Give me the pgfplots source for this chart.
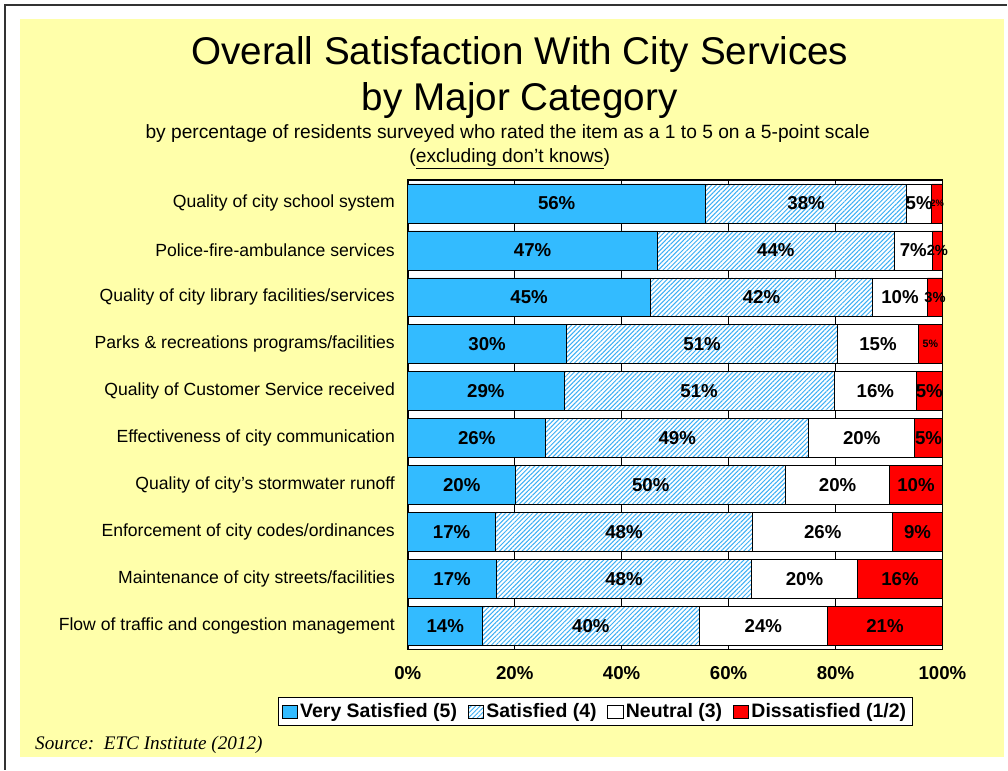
\documentclass[border=0pt]{standalone}
\usepackage{pgfplots}
\pgfplotsset{compat=1.18}
\usepackage{fontspec}
\setmainfont{Liberation Sans}
\newfontfamily\srcfont{Liberation Serif}
\usetikzlibrary{patterns.meta}
\definecolor{bgyellow}{RGB}{255,255,170}
\definecolor{vsblue}{RGB}{51,187,255}
\definecolor{hatchblue}{RGB}{60,175,245}
\definecolor{dsred}{RGB}{255,0,0}
\begin{document}
\begin{tikzpicture}
% page and background
\fill[white] (0pt,0pt) rectangle (756pt,577.5pt);
\draw[black!80, line width=0.9pt] (3.75pt,0pt) -- (3.75pt,573.75pt) -- (756pt,573.75pt);
\fill[bgyellow] (15pt,9.75pt) rectangle (753.75pt,563.25pt);
% titles
\node[font=\fontsize{29}{29}\selectfont] at (390pt,536.25pt) {Overall Satisfaction With City Services};
\node[font=\fontsize{29}{29}\selectfont] at (390pt,501.75pt) {by Major Category};
\node[font=\fontsize{14.4}{14.4}\selectfont] at (381pt,477pt) {by percentage of residents surveyed who rated the item as a 1 to 5 on a 5-point scale};
\node[font=\fontsize{14.4}{14.4}\selectfont] at (382.5pt,458.5pt) {(\underline{excluding don't knows})};
\node[font=\srcfont\itshape\fontsize{14.4}{14.4}\selectfont, anchor=west, inner sep=0pt] at (26.25pt,18.75pt) {Source:\ \ ETC Institute (2012)};
\begin{axis}[
  at={(306pt,90pt)}, anchor=south west,
  scale only axis, width=401.25pt, height=352.5pt,
  xbar stacked, bar width=29.25pt,
  xmin=0, xmax=100, ymin=-0.5, ymax=9.5,
  y dir=reverse,
  clip=false,
  axis background/.style={fill=white},
  xtick={0,20,...,100},
  xticklabel={\pgfmathprintnumber{\tick}\%},
  xticklabel style={font=\bfseries\fontsize{14}{14}\selectfont, /pgf/number format/assume math mode=true, yshift=-9pt},
  xmajorgrids, grid style={black, line width=0.5pt},
  major tick length=0pt,
  ytick={0,...,9},
  yticklabels={Quality of city school system, Police-fire-ambulance services, Quality of city library facilities/services, Parks \& recreations programs/facilities, Quality of Customer Service received, Effectiveness of city communication, Quality of city’s stormwater runoff, Enforcement of city codes/ordinances, Maintenance of city streets/facilities, Flow of traffic and congestion management},
  yticklabel style={font=\fontsize{13.2}{13.2}\selectfont, inner sep=0pt, xshift=-9.5pt},
  axis line style={black, line width=1.3pt},
  point meta=explicit symbolic,
  nodes near coords={\pgfplotspointmeta},
  every node near coord/.append style={font=\bfseries\fontsize{14}{14}\selectfont, text=black},
  legend columns=4,
  legend style={at={(0.3505,-0.132)}, anchor=center, draw=black, fill=white, line width=0.8pt,
    font=\bfseries\fontsize{14.6}{14.6}\selectfont, inner sep=2.5pt,
    /tikz/every even column/.append style={column sep=6pt}},
  legend image code/.code={\draw[#1, line width=0.5pt] (0pt,-4.8pt) rectangle (11.5pt,4.8pt);},
]
\addplot[fill=vsblue, draw=black, line width=0.5pt] coordinates {
 (55.7,0)[56\%] (46.7,1)[47\%] (45.4,2)[45\%] (29.7,3)[30\%] (29.2,4)[29\%]
 (25.8,5)[26\%] (20.2,6)[20\%] (16.4,7)[17\%] (16.6,8)[17\%] (14.0,9)[14\%]};
\addplot[fill=white, draw=black, line width=0.5pt, postaction={pattern={Lines[angle=45, distance=2.4pt, line width=0.75pt]}, pattern color=hatchblue}] coordinates {
 (37.6,0)[38\%] (44.3,1)[44\%] (41.5,2)[42\%] (50.7,3)[51\%] (50.6,4)[51\%]
 (49.2,5)[49\%] (50.5,6)[50\%] (48.1,7)[48\%] (47.7,8)[48\%] (40.5,9)[40\%]};
\addplot[fill=white, draw=black, line width=0.5pt] coordinates {
 (4.7,0)[5\%] (7.1,1)[7\%] (10.3,2)[10\%] (15.1,3)[15\%] (15.3,4)[16\%]
 (19.8,5)[20\%] (19.4,6)[20\%] (26.2,7)[26\%] (19.8,8)[20\%] (24.0,9)[24\%]};
\addplot[fill=dsred, draw=black, line width=0.5pt] coordinates {
 (2.0,0)[{\fontsize{7}{7}\selectfont 2\%}] (1.9,1)[{\fontsize{11}{11}\selectfont 2\%}] (2.8,2)[{\fontsize{11}{11}\selectfont 3\%}] (4.5,3)[{\fontsize{8}{8}\selectfont 5\%}] (4.9,4)[5\%]
 (5.2,5)[5\%] (9.9,6)[10\%] (9.3,7)[9\%] (15.9,8)[16\%] (21.5,9)[21\%]};
\legend{Very Satisfied (5), Satisfied (4), Neutral (3), Dissatisfied (1/2)}
\end{axis}
\end{tikzpicture}
\end{document}
